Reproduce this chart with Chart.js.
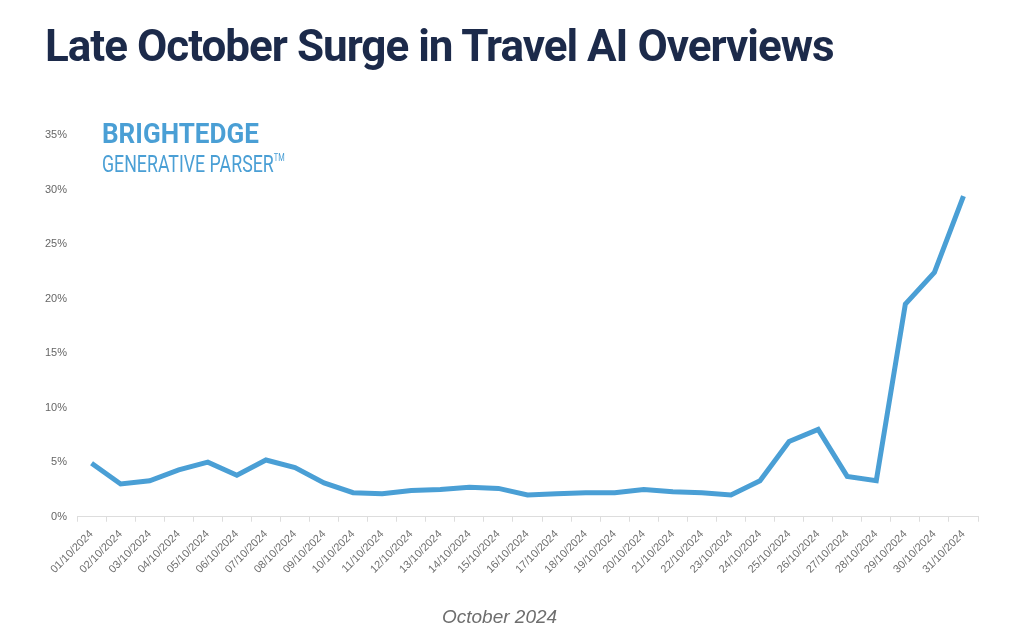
<!DOCTYPE html>
<html>
<head>
<meta charset="utf-8">
<script src="https://cdn.jsdelivr.net/npm/chart.js@4.4.1/dist/chart.umd.min.js"></script>
<style>
  html, body { margin: 0; padding: 0; background: #fff; }
  #wrap { position: relative; width: 1024px; height: 635px; overflow: hidden; }
  #title {
    position: absolute; left: 45px; top: 24px; margin: 0;
    font-family: Roboto, sans-serif; font-weight: 700; font-size: 44px; line-height: 44px;
    color: #1c2a4a; letter-spacing: -1px; white-space: nowrap;
  }
  .logo { position: absolute; color: #4a9fd5; font-family: Roboto, sans-serif; white-space: nowrap; transform-origin: left; }
  #logoB { left: 102px; top: 120px; font-weight: 700; font-size: 28px; line-height: 28px; transform: scaleX(0.93); }
  #logoG { left: 102px; top: 146px; font-weight: 400; font-size: 24px; line-height: 24px; transform: scaleX(0.74); }
  #logoG sup { font-size: 10px; vertical-align: 11px; }
  #xTitle {
    position: absolute; left: 442px; top: 607px;
    font-family: 'Liberation Sans', Arial, sans-serif; font-style: italic; font-size: 19px; line-height: 19px;
    color: #6e6e6e;
  }
  #box { position: absolute; left: 0; top: 0; width: 1024px; height: 635px; }
</style>
</head>
<body>
<div id="wrap">
  <div id="box"><canvas id="myChart"></canvas></div>
  <h1 id="title">Late October Surge in Travel AI Overviews</h1>
  <div class="logo" id="logoB">BRIGHTEDGE</div>
  <div class="logo" id="logoG">GENERATIVE PARSER<sup>TM</sup></div>
  <div id="xTitle">October 2024</div>
</div>
<script>
const days = [];
for (let d = 1; d <= 31; d++) {
    days.push(String(d).padStart(2, '0') + '/10/2024');
}

// share of travel queries showing AI Overviews, in %
const share = [4.9, 3.0, 3.3, 4.3, 5.0, 3.8, 5.2, 4.5, 3.1, 2.2,
               2.1, 2.4, 2.5, 2.7, 2.6, 2.0, 2.1, 2.2, 2.2, 2.5,
               2.3, 2.2, 2.0, 3.3, 6.9, 8.0, 3.7, 3.3, 19.5, 22.4,
               29.4];

const yTicks = [0, 5, 10, 15, 20, 25, 30, 35];

const tickFont = { family: "'Liberation Sans', Arial, sans-serif", size: 11 };

const config = {
    type: 'line',
    data: {
        labels: days,
        datasets: [{
            data: share,
            borderColor: '#4a9fd5',
            borderWidth: 5,
            pointRadius: 0,
            tension: 0,
            fill: false
        }]
    },
    options: {
        responsive: true,
        maintainAspectRatio: false,
        animation: false,
        layout: {
            padding: { left: 35, right: 46, top: 135, bottom: 53 }
        },
        plugins: {
            legend: { display: false },
            tooltip: { enabled: false }
        },
        scales: {
            x: {
                offset: true,
                grid: {
                    offset: true,
                    drawOnChartArea: false,
                    drawTicks: true,
                    tickLength: 5,
                    color: '#dddddd'
                },
                border: { display: true, color: '#dddddd' },
                ticks: {
                    color: '#6e6e6e',
                    font: tickFont,
                    maxRotation: 45,
                    minRotation: 45,
                    autoSkip: false,
                    padding: 6
                }
            },
            y: {
                min: 0,
                max: 35,
                afterBuildTicks: axis => {
                    axis.ticks = yTicks.map(v => ({ value: v }));
                },
                grid: { display: false, drawTicks: false },
                border: { display: false },
                ticks: {
                    color: '#666',
                    font: tickFont,
                    padding: 10,
                    callback: v => v + '%'
                }
            }
        }
    }
};

new Chart(document.getElementById('myChart'), config);
</script>
</body>
</html>
